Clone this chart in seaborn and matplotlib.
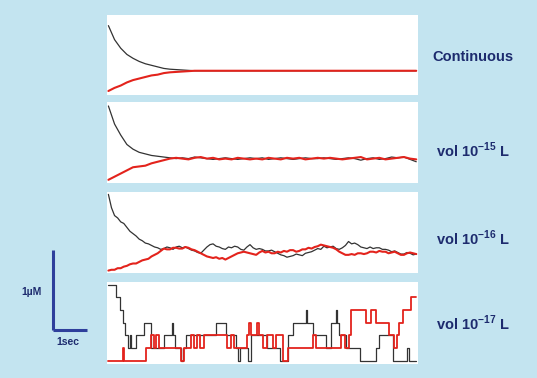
import matplotlib
import seaborn as sns
import numpy as np
import pandas as pd
import matplotlib.pyplot as plt
from matplotlib.lines import Line2D

sns.set_theme(style="white")
plt.rcParams['font.family'] = ['Liberation Sans', 'DejaVu Sans']
plt.rcParams['mathtext.fontset'] = 'custom'
plt.rcParams['mathtext.rm'] = 'Liberation Sans'
plt.rcParams['mathtext.bf'] = 'Liberation Sans:bold'

# --- data (concentration as fraction of panel height, time in sec) ---
cont_t = [0.0, 0.2, 0.4, 0.6, 0.8, 1.0, 1.2, 1.4, 1.6, 1.8, 2.0, 2.4, 2.8, 3.2, 10.0]
cont_black = [0.86, 0.68, 0.57, 0.49, 0.44, 0.40, 0.37, 0.35, 0.33, 0.31, 0.30, 0.29, 0.28, 0.28, 0.28]
cont_red = [0.02, 0.06, 0.09, 0.13, 0.16, 0.18, 0.20, 0.22, 0.23, 0.25, 0.26, 0.27, 0.28, 0.28, 0.28]

v15_t = [round(0.2 * i, 1) for i in range(51)]
v15_black = [0.95, 0.72, 0.58, 0.46, 0.40, 0.36, 0.34, 0.32, 0.31, 0.30,
             0.29, 0.28, 0.29, 0.28, 0.30, 0.29, 0.28, 0.27, 0.28, 0.29,
             0.28, 0.27, 0.28, 0.29, 0.28, 0.29, 0.27, 0.28, 0.29, 0.28,
             0.27, 0.28, 0.29, 0.28, 0.28, 0.29, 0.28, 0.27, 0.28, 0.29,
             0.28, 0.26, 0.28, 0.29, 0.27, 0.28, 0.30, 0.29, 0.30, 0.27, 0.24]
v15_red = [0.01, 0.05, 0.09, 0.13, 0.17, 0.18, 0.19, 0.22, 0.24, 0.26,
           0.28, 0.29, 0.28, 0.27, 0.29, 0.30, 0.28, 0.29, 0.27, 0.28,
           0.27, 0.29, 0.28, 0.27, 0.28, 0.27, 0.29, 0.28, 0.27, 0.29,
           0.28, 0.29, 0.27, 0.28, 0.29, 0.28, 0.29, 0.28, 0.27, 0.28,
           0.29, 0.30, 0.27, 0.28, 0.29, 0.27, 0.28, 0.29, 0.30, 0.28, 0.27]

v16_t = [round(0.1 * i, 1) for i in range(101)]
v16_black = [0.97, 0.80, 0.70, 0.67, 0.62, 0.60, 0.55, 0.50, 0.47, 0.44,
             0.40, 0.38, 0.35, 0.34, 0.32, 0.30, 0.29, 0.27, 0.28, 0.30,
             0.29, 0.27, 0.30, 0.31, 0.29, 0.30, 0.28, 0.26, 0.25, 0.23,
             0.22, 0.26, 0.30, 0.33, 0.34, 0.31, 0.30, 0.28, 0.27, 0.30,
             0.29, 0.31, 0.30, 0.27, 0.26, 0.30, 0.33, 0.29, 0.27, 0.28,
             0.27, 0.25, 0.25, 0.26, 0.24, 0.22, 0.20, 0.19, 0.17, 0.18,
             0.19, 0.21, 0.20, 0.19, 0.22, 0.23, 0.24, 0.26, 0.28, 0.27,
             0.31, 0.29, 0.30, 0.31, 0.28, 0.27, 0.29, 0.32, 0.37, 0.34,
             0.35, 0.33, 0.30, 0.29, 0.28, 0.30, 0.28, 0.29, 0.29, 0.27,
             0.27, 0.26, 0.24, 0.25, 0.23, 0.21, 0.21, 0.23, 0.22, 0.20, 0.21]
v16_red = [0.00, 0.01, 0.01, 0.03, 0.03, 0.05, 0.06, 0.08, 0.09, 0.09,
           0.11, 0.13, 0.14, 0.15, 0.18, 0.20, 0.22, 0.25, 0.28, 0.27,
           0.27, 0.29, 0.29, 0.28, 0.28, 0.30, 0.29, 0.27, 0.26, 0.24,
           0.22, 0.20, 0.18, 0.17, 0.16, 0.17, 0.15, 0.16, 0.14, 0.16,
           0.18, 0.20, 0.22, 0.23, 0.24, 0.23, 0.22, 0.21, 0.20, 0.23,
           0.25, 0.23, 0.24, 0.22, 0.22, 0.24, 0.23, 0.25, 0.24, 0.26,
           0.26, 0.24, 0.25, 0.27, 0.27, 0.29, 0.28, 0.30, 0.31, 0.33,
           0.32, 0.31, 0.30, 0.29, 0.27, 0.24, 0.22, 0.20, 0.20, 0.21,
           0.20, 0.22, 0.22, 0.21, 0.22, 0.24, 0.24, 0.23, 0.25, 0.24,
           0.24, 0.22, 0.23, 0.24, 0.22, 0.20, 0.20, 0.22, 0.23, 0.22, 0.21]

# vol 1e-17 L: molecule counts (step traces)
v17_black_t = [0, 0.25, 0.39, 0.46, 0.54, 0.63, 0.71, 0.75, 0.89, 1.16,
               1.38, 1.81, 2.06, 2.11, 2.16, 2.35, 2.42, 2.51, 3.48, 3.81,
               4.13, 4.22, 4.29, 4.53, 4.62, 5.14, 5.57, 5.84, 6.00, 6.41,
               6.46, 6.64, 7.07, 7.24, 7.38, 7.44, 7.50, 7.72, 8.16, 8.70,
               8.80, 9.23, 9.70, 9.77, 10.0]
v17_black_n = [6, 5, 4, 3, 2, 1, 2, 1, 2, 3,
               1, 2, 3, 2, 1, 0, 1, 2, 3, 2,
               1, 0, 1, 0, 2, 1, 0, 2, 3, 4,
               3, 2, 1, 3, 4, 3, 2, 1, 0, 1,
               2, 0, 1, 0, 0]
v17_red_t = [0, 0.46, 0.51, 1.22, 1.38, 1.49, 1.54, 1.65, 2.37, 2.46,
             2.68, 2.78, 2.89, 2.99, 3.10, 3.86, 3.97, 4.08, 4.51, 4.56,
             4.64, 4.83, 4.90, 5.03, 5.14, 5.35, 5.46, 5.68, 5.84, 6.64,
             6.75, 7.56, 7.67, 7.83, 7.89, 8.37, 8.53, 8.70, 9.12, 9.28,
             9.36, 9.45, 9.58, 9.82, 10.0]
v17_red_n = [0, 1, 0, 1, 2, 1, 2, 1, 0, 1,
             2, 1, 2, 1, 2, 1, 2, 1, 2, 3,
             2, 3, 2, 1, 2, 1, 2, 0, 1, 2,
             1, 2, 1, 2, 4, 3, 4, 3, 2, 1,
             2, 3, 4, 5, 5]

labels = ["Continuous", r"vol 10$^{\mathbf{-15}}$ L",
          r"vol 10$^{\mathbf{-16}}$ L", r"vol 10$^{\mathbf{-17}}$ L"]

bg = "#c3e4f0"
navy = "#1d2b6e"
bar_blue = "#2e3f9c"
black = "#333333"
red = "#e3231c"

fig = plt.figure(figsize=(5.37, 3.78), dpi=100)
fig.patch.set_facecolor(bg)

# panel rectangles [left, bottom, width, height] in figure fraction
rects = [[0.199, 0.749, 0.579, 0.212],
         [0.199, 0.516, 0.579, 0.214],
         [0.199, 0.278, 0.579, 0.214],
         [0.199, 0.037, 0.579, 0.217]]
label_y = [57, 150, 238, 323]

axes = [fig.add_axes(r) for r in rects]

d1 = pd.DataFrame({"t": cont_t, "black": cont_black, "red": cont_red})
d2 = pd.DataFrame({"t": v15_t, "black": v15_black, "red": v15_red})
d3 = pd.DataFrame({"t": v16_t, "black": v16_black, "red": v16_red})

for ax, d in zip(axes[:3], [d1, d2, d3]):
    sns.lineplot(data=d, x="t", y="black", ax=ax, color=black, lw=0.9,
                 estimator=None, sort=False)
    sns.lineplot(data=d, x="t", y="red", ax=ax, color=red, lw=1.5,
                 estimator=None, sort=False)
    ax.set_ylim(-0.03, 1.0)

ax4 = axes[3]
sns.lineplot(x=v17_black_t, y=v17_black_n, ax=ax4, color=black, lw=0.9,
             drawstyle="steps-post", estimator=None, sort=False)
sns.lineplot(x=v17_red_t, y=v17_red_n, ax=ax4, color=red, lw=1.3,
             drawstyle="steps-post", estimator=None, sort=False)
ax4.set_ylim(-0.25, 6.2)

for ax, lab, ly in zip(axes, labels, label_y):
    ax.set_xlim(-0.05, 10.05)
    ax.set_facecolor("white")
    for s in ax.spines.values():
        s.set_visible(False)
    ax.set_xticks([])
    ax.set_yticks([])
    ax.set_xlabel("")
    ax.set_ylabel("")
    fig.text(473 / 537, 1 - ly / 378, lab, color=navy, fontsize=10.5,
             fontweight="bold", ha="center", va="center")

# scale bar
fig.add_artist(Line2D([53 / 537, 53 / 537], [1 - 250 / 378, 1 - 330 / 378],
                      color=bar_blue, lw=2.2, transform=fig.transFigure,
                      solid_capstyle="butt"))
fig.add_artist(Line2D([53 / 537, 87 / 537], [1 - 330 / 378, 1 - 330 / 378],
                      color=bar_blue, lw=2.2, transform=fig.transFigure,
                      solid_capstyle="butt"))
fig.text(32 / 537, 1 - 292 / 378, "1µM", color=navy, fontsize=7.5,
         fontweight="bold", ha="center", va="center")
fig.text(68 / 537, 1 - 342 / 378, "1sec", color=navy, fontsize=7.5,
         fontweight="bold", ha="center", va="center")

fig.savefig("out.png", dpi=100, facecolor=bg)
